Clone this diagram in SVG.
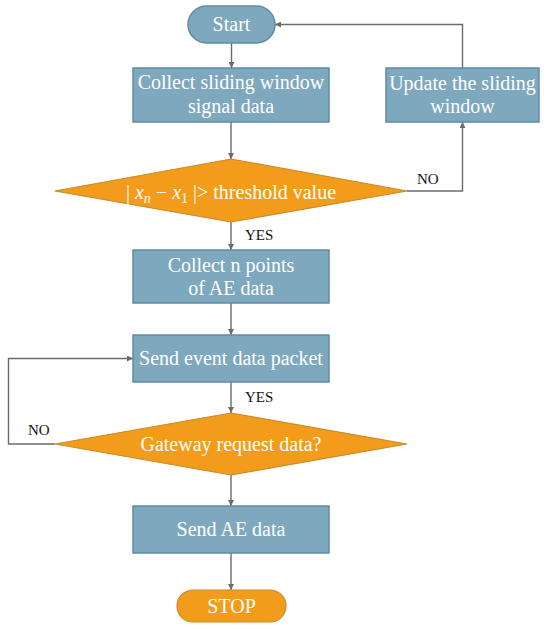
<svg xmlns="http://www.w3.org/2000/svg" width="550" height="629" viewBox="0 0 550 629">
<style>
.blue{fill:#7ea8bd;stroke:#5f8ca3;stroke-width:1.5}
.orange{fill:#f39c1c;stroke:#c98a2a;stroke-width:1.2}
text{font-family:'Liberation Serif','Times New Roman','DejaVu Serif',serif}
.t{font-size:20px;fill:#ffffff;text-anchor:middle}
.lbl{font-size:15px;fill:#111111}
.c{fill:none;stroke:#6b6b6b;stroke-width:1.4}
</style>
<defs>
<marker id="ah" viewBox="0 0 10 10" refX="10" refY="5" markerWidth="6" markerHeight="6" orient="auto" markerUnits="userSpaceOnUse">
<path d="M0,0 L10,5 L0,10 z" fill="#6b6b6b"/>
</marker>
</defs>
<rect width="550" height="629" fill="#ffffff"/>
<g id="connectors">
<path class="c" d="M231.5,43 V68" marker-end="url(#ah)"/>
<path class="c" d="M231,122 V159" marker-end="url(#ah)"/>
<path class="c" d="M407,191 H462.5 V122" marker-end="url(#ah)"/>
<path class="c" d="M462.5,68 V24.5 H275" marker-end="url(#ah)"/>
<path class="c" d="M231,222 V250" marker-end="url(#ah)"/>
<path class="c" d="M231,303 V335" marker-end="url(#ah)"/>
<path class="c" d="M231,382 V413" marker-end="url(#ah)"/>
<path class="c" d="M55,444 H8.5 V358.5 H133" marker-end="url(#ah)"/>
<path class="c" d="M231,475 V506" marker-end="url(#ah)"/>
<path class="c" d="M231,553 V590" marker-end="url(#ah)"/>
<text class="lbl" font-family="Liberation Serif, serif" x="417" y="184">NO</text>
<text class="lbl" font-family="Liberation Serif, serif" x="245" y="240">YES</text>
<text class="lbl" font-family="Liberation Serif, serif" x="245" y="402">YES</text>
<text class="lbl" font-family="Liberation Serif, serif" x="28" y="435">NO</text>
</g>
<g id="start">
<rect class="blue" x="188" y="6" width="87" height="37" rx="18.5"/>
<text class="t" font-family="Liberation Serif, serif" x="231.5" y="31">Start</text>
</g>
<g id="collect-window">
<rect class="blue" x="133" y="68" width="196" height="54"/>
<text class="t" font-family="Liberation Serif, serif" x="231" y="89">Collect sliding window</text>
<text class="t" font-family="Liberation Serif, serif" x="231" y="113">signal data</text>
</g>
<g id="update-window">
<rect class="blue" x="386" y="68" width="153" height="54"/>
<text class="t" font-family="Liberation Serif, serif" x="462.5" y="90">Update the sliding</text>
<text class="t" font-family="Liberation Serif, serif" x="462.5" y="113">window</text>
</g>
<g id="threshold">
<polygon class="orange" points="231,159 407,191 231,222 55,191"/>
<text class="t" font-family="Liberation Serif, serif" x="231" y="199">| <tspan font-style="italic">x</tspan><tspan font-style="italic" font-size="14" dy="4">n</tspan><tspan dy="-4"> − </tspan><tspan font-style="italic">x</tspan><tspan font-size="14" dy="4">1</tspan><tspan dy="-4"> |&gt; threshold value</tspan></text>
</g>
<g id="collect-ae">
<rect class="blue" x="133" y="250" width="196" height="53"/>
<text class="t" font-family="Liberation Serif, serif" x="231" y="272">Collect n points</text>
<text class="t" font-family="Liberation Serif, serif" x="231" y="295">of AE data</text>
</g>
<g id="send-event">
<rect class="blue" x="133" y="335" width="196" height="47"/>
<text class="t" font-family="Liberation Serif, serif" x="231" y="365">Send event data packet</text>
</g>
<g id="gateway">
<polygon class="orange" points="231,413 407,444 231,475 55,444"/>
<text class="t" font-family="Liberation Serif, serif" x="231" y="451">Gateway request data?</text>
</g>
<g id="send-ae">
<rect class="blue" x="133" y="506" width="196" height="47"/>
<text class="t" font-family="Liberation Serif, serif" x="231" y="536">Send AE data</text>
</g>
<g id="stop">
<rect class="orange" x="177" y="590" width="109" height="32" rx="16"/>
<text class="t" font-family="Liberation Serif, serif" x="231.5" y="613">STOP</text>
</g>
</svg>
